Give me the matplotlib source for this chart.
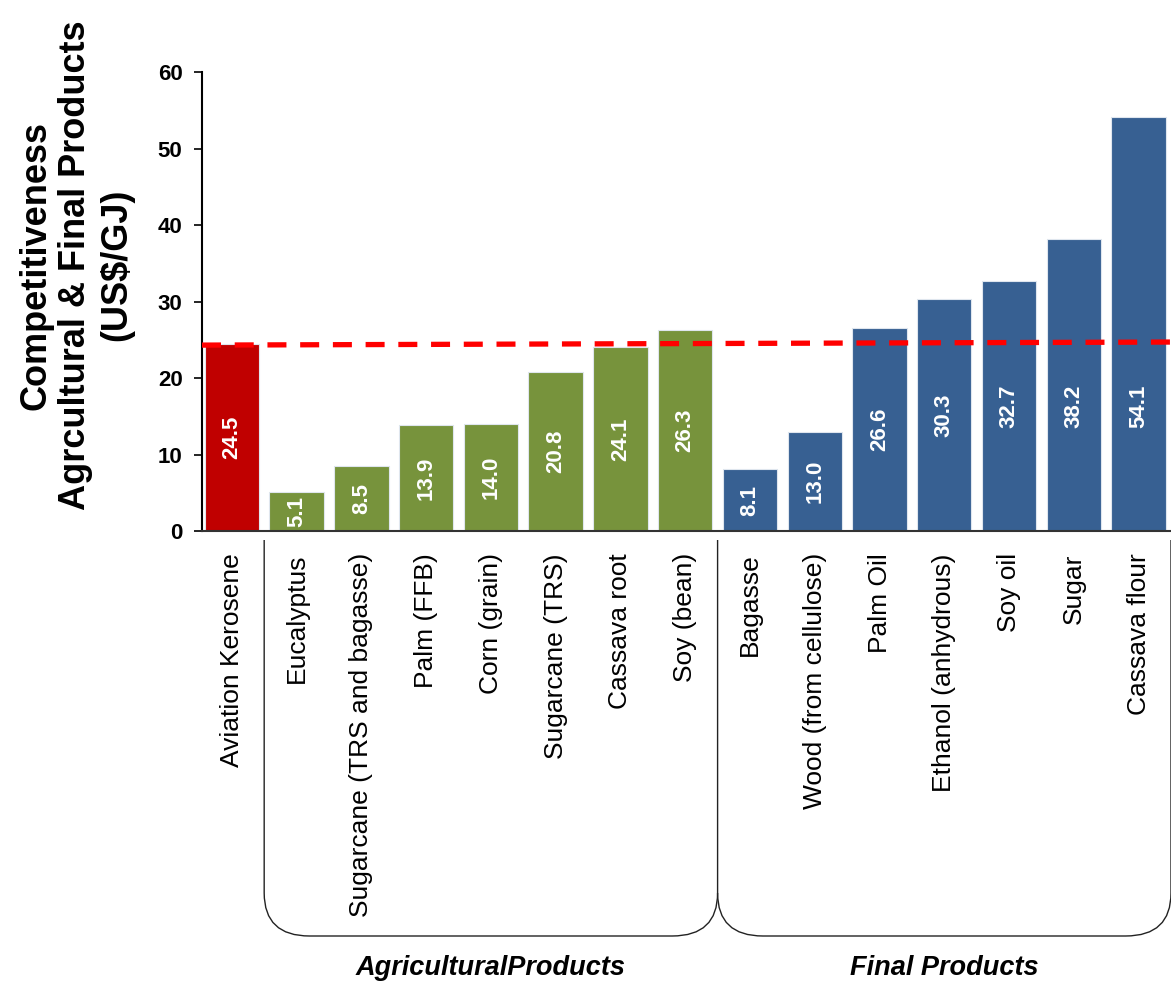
import matplotlib
matplotlib.use("Agg")
import matplotlib.pyplot as plt
from matplotlib.path import Path
from matplotlib.patches import PathPatch
from matplotlib.transforms import blended_transform_factory

plt.rcParams['font.family'] = ['Liberation Sans', 'DejaVu Sans']

# ---- data ----
categories = ["Aviation Kerosene",
              "Eucalyptus", "Sugarcane (TRS and bagasse)", "Palm (FFB)", "Corn (grain)",
              "Sugarcane (TRS)", "Cassava root", "Soy (bean)",
              "Bagasse", "Wood (from cellulose)", "Palm Oil", "Ethanol (anhydrous)",
              "Soy oil", "Sugar", "Cassava flour"]
values = [24.5,
          5.1, 8.5, 13.9, 14.0, 20.8, 24.1, 26.3,
          8.1, 13.0, 26.6, 30.3, 32.7, 38.2, 54.1]
groups = ["ref"] + ["agri"] * 7 + ["final"] * 7
group_names = {"agri": "AgriculturalProducts", "final": "Final Products"}
reference_line = [24.3, 24.7]   # dashed kerosene reference (start, end)
yticks = [0, 10, 20, 30, 40, 50, 60]

colors = {"ref": "#C00000", "agri": "#77933C", "final": "#376092"}

fig = plt.figure(figsize=(11.71, 9.84), dpi=100)
ax = fig.add_axes([202 / 1171, 1 - 531 / 984, (1171 - 202) / 1171, (531 - 72) / 984])

x = list(range(len(categories)))
bars = ax.bar(x, values, width=0.84, color=[colors[g] for g in groups],
              edgecolor="#dfe6ee", linewidth=0.8, zorder=2)

for xi, v in zip(x, values):
    ax.text(xi, min(v / 2, 16.3), f"{v:.1f}", rotation=90, ha="center", va="center",
            color="white", fontsize=16, fontweight="bold", zorder=4)

ax.set_xlim(-0.46, len(categories) - 0.5)
ax.set_ylim(0, 60)
ax.set_yticks(yticks)
ax.set_yticklabels([str(t) for t in yticks], fontsize=16, fontweight="bold")
ax.tick_params(axis="y", length=6, width=1.2, pad=8, direction="out")
ax.set_xticks(x)
ax.set_xticklabels(categories, rotation=90, fontsize=19, va="top", ha="center")
ax.tick_params(axis="x", length=0, pad=16)

for s in ["top", "right"]:
    ax.spines[s].set_visible(False)
ax.spines["left"].set_linewidth(1.5)
ax.spines["bottom"].set_linewidth(1.5)
ax.spines["bottom"].set_color("#333333")

# dashed reference line across the chart
ax.plot([-0.46, len(categories) - 0.5], reference_line, color="#FF0000", lw=3.8,
        dashes=(3.6, 2.6), zorder=3, clip_on=False)

# y label
fig.text(76 / 1171, 1 - 265 / 984,
         "Competitiveness\nAgrcultural & Final Products\n(US$/GJ)",
         rotation=90, ha="center", va="center", multialignment="center",
         fontsize=26, fontweight="bold", linespacing=1.2)

# group brackets
tr = blended_transform_factory(ax.transData, fig.transFigure)
y_top = 1 - 540 / 984
y_c = 1 - 893 / 984
y_b = 1 - 936 / 984
r = 0.7


def bracket(x0, x1, draw_left=True):
    verts = []
    codes = []
    if draw_left:
        verts += [(x0, y_top), (x0, y_c)]
        codes += [Path.MOVETO, Path.LINETO]
    else:
        verts += [(x0, y_c)]
        codes += [Path.MOVETO]
    verts += [(x0, y_b), (x0 + r, y_b), (x1 - r, y_b), (x1, y_b), (x1, y_c), (x1, y_top)]
    codes += [Path.CURVE3, Path.CURVE3, Path.LINETO, Path.CURVE3, Path.CURVE3, Path.LINETO]
    p = PathPatch(Path(verts, codes), transform=tr, fill=False, lw=1.0,
                  edgecolor="#222222", clip_on=False)
    fig.add_artist(p)


agri_idx = [i for i, g in enumerate(groups) if g == "agri"]
final_idx = [i for i, g in enumerate(groups) if g == "final"]
bracket(agri_idx[0] - 0.5, agri_idx[-1] + 0.5, True)
bracket(final_idx[0] - 0.5, final_idx[-1] + 0.5, False)

y_lab = 1 - 968 / 984
fig.text(0, y_lab, group_names["agri"], transform=tr, fontsize=19.5, fontweight="bold",
         fontstyle="italic", ha="center", va="center")
fig.texts[-1].set_x((agri_idx[0] + agri_idx[-1]) / 2)
t2 = fig.text((final_idx[0] + final_idx[-1]) / 2, y_lab, group_names["final"], transform=tr,
              fontsize=19.5, fontweight="bold", fontstyle="italic", ha="center", va="center")

fig.savefig("out.png", dpi=100)
